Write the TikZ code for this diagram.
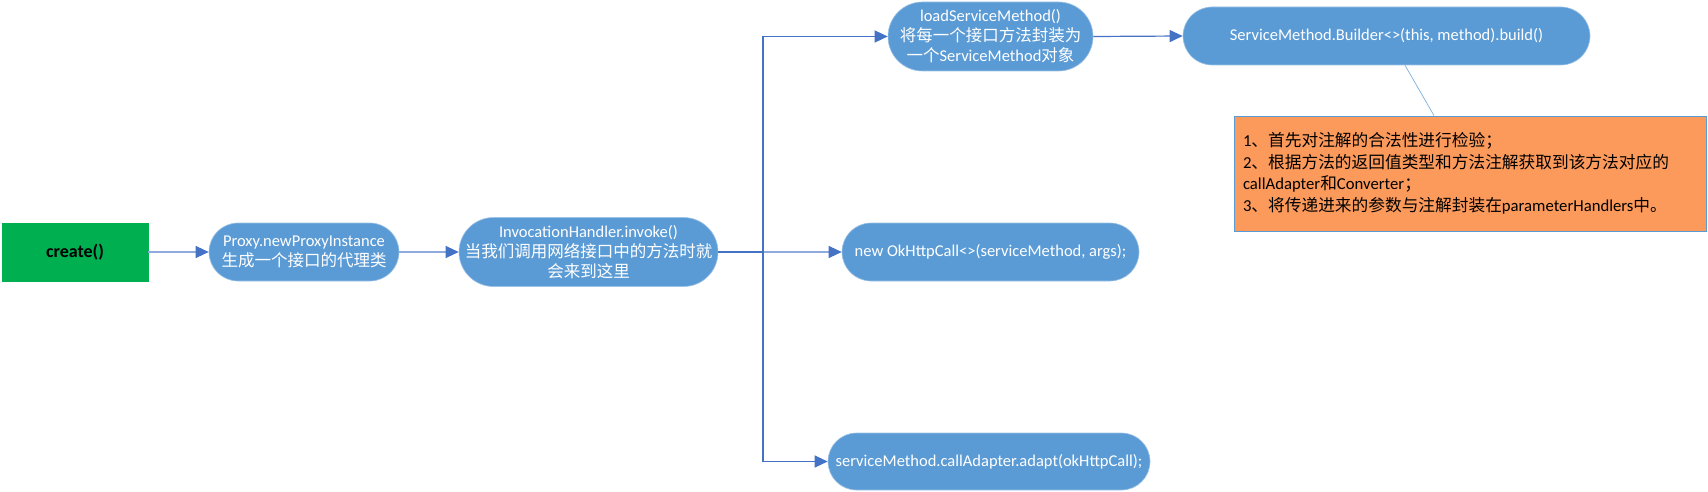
\documentclass[tikz,border=0pt]{standalone}
\usepackage{fontspec}
\setmainfont{Carlito}
\newfontfamily\cjk{Noto Sans CJK SC}
\usetikzlibrary{arrows.meta}
\definecolor{nodeblue}{HTML}{5B9BD5}
\definecolor{darkline}{HTML}{4472C4}
\definecolor{lightline}{HTML}{8FAADC}
\definecolor{creategreen}{HTML}{00B050}
\definecolor{noteorange}{HTML}{FC9A5C}
\newcommand{\zhtext}[1]{{\cjk #1}}
\begin{document}
\begin{tikzpicture}[x=1pt,y=-1pt,
  flow/.style={fill=nodeblue, draw=nodeblue!60!white, line width=0.6pt, text=white, align=center,
    font=\fontsize{16.5}{20}\selectfont, inner sep=2pt},
  startbox/.style={fill=creategreen, draw=creategreen, text=black, font=\fontsize{18}{20}\selectfont\bfseries,
    minimum width=146pt, minimum height=58pt, inner sep=0pt},
  notebox/.style={fill=noteorange, draw=nodeblue, line width=0.8pt, text=black, align=left,
    font=\fontsize{16.7}{21.5}\selectfont, text width=454pt, inner xsep=9pt, minimum width=472pt, minimum height=115pt},
  tipend/.style={-{Triangle[length=13pt,width=12pt,color=darkline]}},
  lightconn/.style={draw=lightline, line width=1.1pt, tipend},
  darkconn/.style={draw=darkline, line width=1.2pt},
  noteconn/.style={draw=nodeblue!80!white, line width=0.7pt}
]
\useasboundingbox (0,0) rectangle (1708,492);

\node[startbox] (create) at (75,252) {create()};
\node[flow, minimum width=190pt, minimum height=58pt, rounded corners=29pt] (proxy) at (304,252)
  {Proxy.newProxyInstance\\\zhtext{生成一个接口的代理类}};
\node[flow, minimum width=259pt, minimum height=69pt, rounded corners=34.5pt] (inv) at (588.5,252)
  {InvocationHandler.invoke()\\\zhtext{当我们调用网络接口中的方法时就}\\\zhtext{会来到这里}};
\node[flow, minimum width=205pt, minimum height=69pt, rounded corners=34.5pt] (load) at (990.5,36.5)
  {loadServiceMethod()\\\zhtext{将每一个接口方法封装为}\\\zhtext{一个}ServiceMethod\zhtext{对象}};
\node[flow, minimum width=407pt, minimum height=58pt, rounded corners=29pt] (builder) at (1386.5,36)
  {ServiceMethod.Builder<>(this, method).build()};
\node[flow, minimum width=297pt, minimum height=58pt, rounded corners=29pt] (ok) at (990.5,252)
  {new OkHttpCall<>(serviceMethod, args);};
\node[flow, minimum width=322pt, minimum height=57pt, rounded corners=28.5pt] (adapt) at (989,461.5)
  {serviceMethod.callAdapter.adapt(okHttpCall);};
\node[notebox] (note) at (1470,173.5)
  {1\zhtext{、首先对注解的合法性进行检验；}\\
   2\zhtext{、根据方法的返回值类型和方法注解获取到该方法对应的}\\
   callAdapter\zhtext{和}Converter\zhtext{；}\\
   3\zhtext{、将传递进来的参数与注解封装在}parameterHandlers\zhtext{中。}};

\coordinate (j) at (763,252);

\draw[lightconn] (create) -- (proxy);
\draw[lightconn] (proxy) -- (inv);
\draw[darkconn] (inv.east) -- (j);
\draw[lightconn] (j) -- (ok.west);
\draw[darkconn, tipend] (j) |- (load.west);
\draw[darkconn, tipend] (j) |- (adapt.west);
\draw[darkconn, tipend] (load.east) -- (builder.west);
\draw[noteconn] ([xshift=18.5pt]builder.south) -- ([xshift=-36pt]note.north);
\end{tikzpicture}
\end{document}
